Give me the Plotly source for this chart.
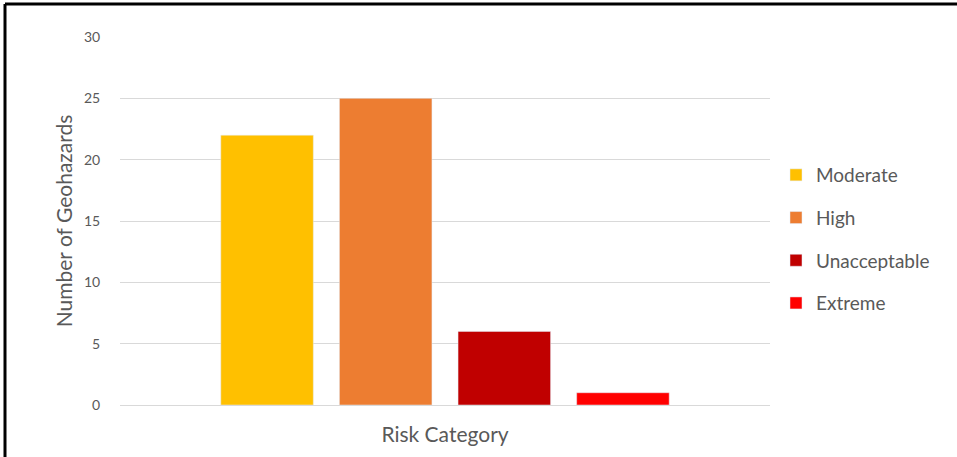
import plotly.graph_objects as go

categories = ["Moderate", "High", "Unacceptable", "Extreme"]
values = [22, 25, 6, 1]
colors = ["#FFC000", "#ED7D31", "#C00000", "#FF0000"]
y_ticks = [0, 5, 10, 15, 20, 25, 30]

fig = go.Figure()
for i, (c, v, col) in enumerate(zip(categories, values, colors)):
    fig.add_trace(go.Bar(x=[""], y=[v], name=c, marker_color=col,
                         legendgroup=f"g{i}"))

W, H = 957, 457
L, R, T, B = 120, 187, 37, 52
pw = W - L - R
ph = H - T - B

def px_x(x):
    return (x - L) / pw

def px_y(y):
    return (H - B - y) / ph

fig.update_layout(
    width=W, height=H,
    margin=dict(l=L, r=R, t=T, b=B),
    plot_bgcolor="white", paper_bgcolor="white",
    barmode="group", bargap=0.27, bargroupgap=0.22,
    font=dict(family="Lato, Carlito, Calibri, sans-serif", color="#595959"),
    xaxis=dict(showticklabels=False, showgrid=False, zeroline=False,
               title=dict(text="Risk Category", font=dict(size=21, color="#595959"), standoff=22)),
    yaxis=dict(range=[0, 30], tickvals=y_ticks, showgrid=True, gridcolor="#D9D9D9",
               zeroline=True, zerolinecolor="#D9D9D9", zerolinewidth=1,
               ticks="outside", ticklen=16, tickcolor="rgba(0,0,0,0)",
               tickfont=dict(size=14, color="#595959"),
               title=dict(text="Number of Geohazards", font=dict(size=21, color="#595959"), standoff=5)),
    legend=dict(x=px_x(776), y=px_y(156), xanchor="left", yanchor="top",
                font=dict(size=19, color="#595959"), tracegroupgap=15,
                itemwidth=30, bgcolor="rgba(0,0,0,0)"),
    showlegend=True,
    shapes=[
        dict(type="line", xref="paper", yref="paper", x0=px_x(5), x1=px_x(960),
             y0=px_y(4), y1=px_y(4), line=dict(color="black", width=3)),
        dict(type="line", xref="paper", yref="paper", x0=px_x(5), x1=px_x(5),
             y0=px_y(4), y1=px_y(460), line=dict(color="black", width=3)),
    ],
)

fig.write_html("out.html")
